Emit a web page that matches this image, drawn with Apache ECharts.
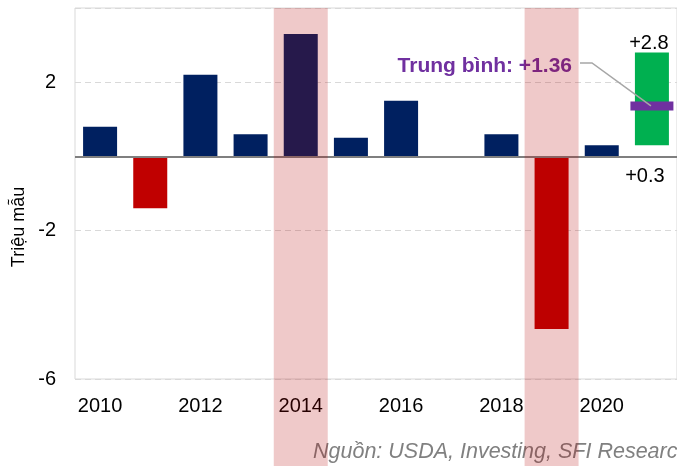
<!DOCTYPE html>
<html>
<head>
<meta charset="utf-8">
<script src="https://cdn.jsdelivr.net/npm/echarts@6/dist/echarts.min.js"></script>
<style>
html,body{margin:0;padding:0;background:#fff;}
#c{width:677px;height:466px;}
</style>
</head>
<body>
<div id="c"></div>
<script>
const years = ['2010','2011','2012','2013','2014','2015','2016','2017','2018','2019','2020','2021'];
const changes = [0.8, -1.4, 2.2, 0.6, 3.3, 0.5, 1.5, 0, 0.6, -4.65, 0.3, null];
const forecastYear = '2021';
const forecastLow = 0.3;
const forecastHigh = 2.8;
const forecastAvg = 1.36;
const highlightYears = ['2014', '2019'];
const yMin = -6, yMax = 4, yStep = 4;

const FONT = 'Liberation Sans, Arial, sans-serif';
const chart = echarts.init(document.getElementById('c'), null, {renderer: 'canvas'});

const baseData = years.map(y => y === forecastYear ? forecastLow : '-');
const spanData = years.map(y => y === forecastYear ? +(forecastHigh - forecastLow).toFixed(4) : '-');
const bandData = years.map(y => highlightYears.includes(y) ? 1 : '-');

const option = {
  animation: false,
  backgroundColor: '#fff',
  textStyle: {fontFamily: FONT},
  grid: [
    {left: 75, right: -1, top: 8, bottom: 87, show: true, borderColor: '#d9d9d9', borderWidth: 1, backgroundColor: 'transparent'},
    {left: 75, right: -1, top: 8, bottom: 0, show: false}
  ],
  xAxis: [
    {type: 'category', data: years, gridIndex: 0, boundaryGap: true,
     axisLine: {show: false, onZero: false}, axisTick: {show: false},
     axisLabel: {interval: 1, fontSize: 20, color: '#000', margin: 17, fontFamily: FONT}},
    {type: 'category', data: years, gridIndex: 1, boundaryGap: true, show: false}
  ],
  yAxis: [
    {type: 'value', gridIndex: 0, min: yMin, max: yMax, interval: yStep,
     axisLine: {show: false}, axisTick: {show: false},
     axisLabel: {fontSize: 20, color: '#000', margin: 19, showMaxLabel: false, fontFamily: FONT},
     splitLine: {show: true, lineStyle: {color: '#d9d9d9', type: [6, 4], width: 1}}},
    {type: 'value', gridIndex: 1, min: 0, max: 1, show: false}
  ],
  series: [
    {
      name: 'changes', type: 'bar', xAxisIndex: 0, yAxisIndex: 0,
      barWidth: 34, barGap: '-100%',
      data: changes.map(v => v === null ? '-' : {value: v, itemStyle: {color: v < 0 ? '#C00000' : '#002060'}}),
      markLine: {
        silent: true, symbol: 'none', label: {show: false},
        lineStyle: {color: '#7f7f7f', type: 'solid', width: 2},
        data: [{yAxis: 0}]
      },
      z: 2
    },
    {
      name: 'base', type: 'bar', stack: 'fc', xAxisIndex: 0, yAxisIndex: 0,
      barWidth: 34, barGap: '-100%',
      itemStyle: {color: 'rgba(0,0,0,0)'},
      label: {show: true, position: 'bottom', distance: 10, offset: [-7, 0],
              formatter: () => '+' + forecastLow.toFixed(1), fontSize: 20, color: '#000', fontFamily: FONT},
      data: baseData, z: 2
    },
    {
      name: 'span', type: 'bar', stack: 'fc', xAxisIndex: 0, yAxisIndex: 0,
      barWidth: 34, barGap: '-100%',
      itemStyle: {color: '#00B050'},
      label: {show: true, position: 'top', distance: -1, offset: [-3, 0],
              formatter: () => '+' + forecastHigh.toFixed(1), fontSize: 20, color: '#000', fontFamily: FONT},
      data: spanData, z: 2
    },
    {
      name: 'avg', type: 'scatter', xAxisIndex: 0, yAxisIndex: 0,
      symbol: 'rect', symbolSize: [43, 9],
      itemStyle: {color: '#7030A0', opacity: 1},
      data: [[forecastYear, forecastAvg]], z: 3, silent: true
    },
    {
      name: 'band', type: 'bar', xAxisIndex: 1, yAxisIndex: 1,
      barWidth: 54, silent: true,
      itemStyle: {color: 'rgba(180,0,0,0.21)'},
      data: bandData, z: 10
    }
  ]
};
chart.setOption(option);

const p = chart.convertToPixel({xAxisIndex: 0, yAxisIndex: 0}, [forecastYear, forecastAvg]);
chart.setOption({
  graphic: [
    {type: 'text', z: 5, x: 19, y: 227, rotation: Math.PI / 2,
     style: {text: 'Triệu mẫu', font: '18px ' + FONT, fill: '#000', textAlign: 'center', textVerticalAlign: 'middle'}},
    {type: 'text', z: 5, x: 572, y: 66,
     style: {text: 'Trung bình: +' + forecastAvg.toFixed(2), font: 'bold 21px ' + FONT, fill: '#7030A0', textAlign: 'right', textVerticalAlign: 'middle'}},
    {type: 'polyline', z: 5,
     shape: {points: [[580, 63], [592, 63], [p[0] - 1, p[1]]]},
     style: {stroke: '#a6a6a6', lineWidth: 1.5, fill: null}},
    {type: 'text', z: 5, x: 313, y: 452,
     style: {text: 'Nguồn: USDA, Investing, SFI Research', font: 'italic 21.5px ' + FONT, fill: '#808080', textAlign: 'left', textVerticalAlign: 'middle'}}
  ]
});
</script>
</body>
</html>
